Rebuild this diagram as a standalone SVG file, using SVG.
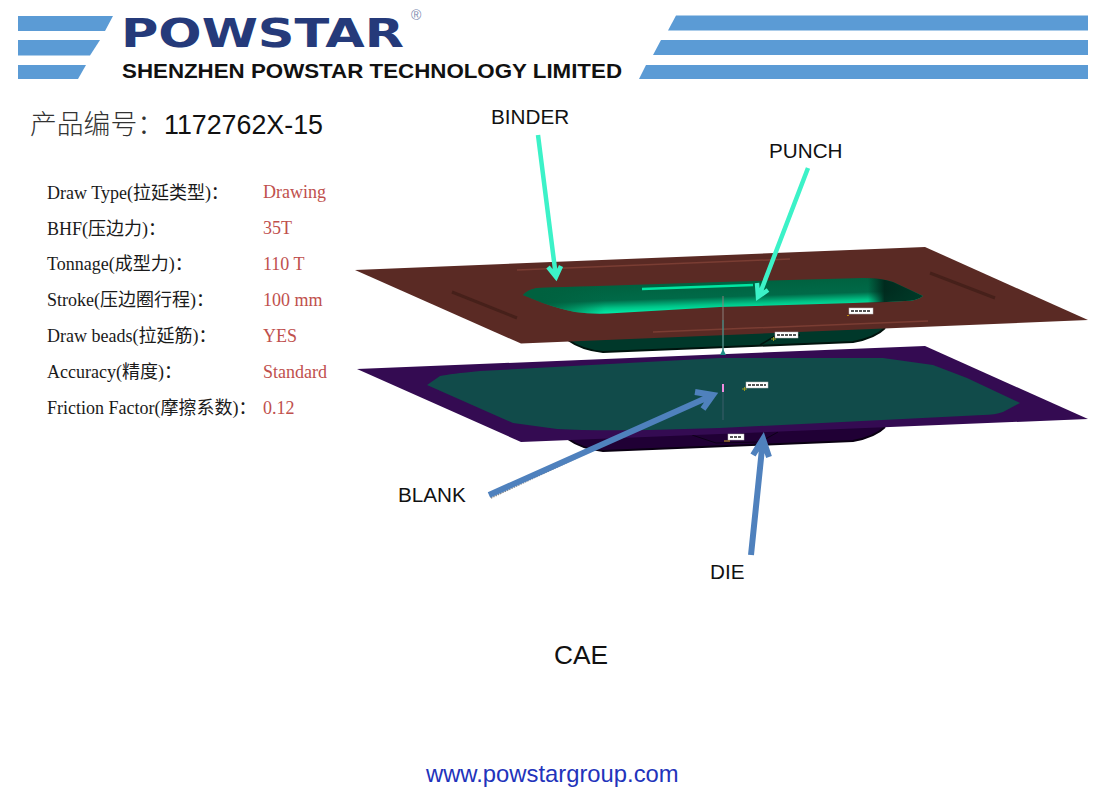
<svg xmlns="http://www.w3.org/2000/svg" width="1118" height="801" viewBox="0 0 1118 801">
<style>
.stripe{fill:#5b9bd5}
.sans{font-family:"Liberation Sans","Noto Sans CJK SC",sans-serif;fill:#111}
.lab{font-size:20.700px}
.k{font-family:"Liberation Serif","Noto Sans CJK SC",serif;font-size:18px;fill:#1a1a1a}
.v{font-family:"Liberation Serif","Noto Sans CJK SC",serif;font-size:18px;fill:#c0504d}
.tag{fill:#fff;stroke:#bbb;stroke-width:.5}
.tagt{stroke:#555;stroke-width:2;stroke-dasharray:3 1}
.cy{fill:none;stroke:#3cf2c8;stroke-width:4.500;stroke-linejoin:miter}
.bl{fill:none;stroke:#4f81bd;stroke-width:6}
.sh{fill:none;stroke:#8a8a8a;stroke-width:1.400;stroke-dasharray:1.500 1}
</style>
<defs>
<linearGradient id="cav" gradientUnits="userSpaceOnUse" x1="700" y1="281" x2="701" y2="311">
<stop offset="0" stop-color="#00613f"/><stop offset=".55" stop-color="#006a48"/><stop offset=".8" stop-color="#00c286"/><stop offset=".95" stop-color="#00e6a2"/>
</linearGradient>
<linearGradient id="endR" gradientUnits="userSpaceOnUse" x1="868" y1="0" x2="923" y2="0">
<stop offset="0" stop-color="#00281c" stop-opacity="0"/><stop offset=".3" stop-color="#00281c" stop-opacity=".95"/><stop offset="1" stop-color="#003a28"/>
</linearGradient>
<linearGradient id="endL" gradientUnits="userSpaceOnUse" x1="540" y1="0" x2="605" y2="0">
<stop offset="0" stop-color="#00613f"/><stop offset="1" stop-color="#00613f" stop-opacity="0"/>
</linearGradient>
</defs>

<g id="logo">
<polygon class="stripe" points="18,16 113,16 105,31 18,31"/>
<polygon class="stripe" points="18,40 100,40 90,55.500 18,55.500"/>
<polygon class="stripe" points="18,65 86,65 78,79 18,79"/>
<text x="121" y="47" font-family="DejaVu Sans,sans-serif" font-weight="bold" font-size="39.500" fill="#253a7a" textLength="283" lengthAdjust="spacingAndGlyphs">POWSTAR</text>
<text x="411" y="20" font-family="Liberation Sans,sans-serif" font-size="14" fill="#7f8cb0">®</text>
<text x="122" y="78" class="sans" font-weight="bold" font-size="20.500" textLength="500" lengthAdjust="spacingAndGlyphs">SHENZHEN POWSTAR TECHNOLOGY LIMITED</text>
<polygon class="stripe" points="676,15.500 1088,15.500 1088,30.500 668,30.500"/>
<polygon class="stripe" points="661,40 1088,40 1088,55 653,55"/>
<polygon class="stripe" points="646,65 1088,65 1088,79 639,79"/>
</g>

<g id="title">
<text x="30" y="134" class="sans" font-size="26.800"><tspan fill="#333" font-weight="300">产品编号：</tspan><tspan x="164">1172762X-15</tspan></text>
</g>

<g id="params">
<text class="k" x="47" y="198.500">Draw Type(拉延类型)：</text><text class="v" x="263" y="198">Drawing</text>
<text class="k" x="47" y="234.500">BHF(压边力)：</text><text class="v" x="263" y="234">35T</text>
<text class="k" x="47" y="270">Tonnage(成型力)：</text><text class="v" x="263" y="270">110 T</text>
<text class="k" x="47" y="306">Stroke(压边圈行程)：</text><text class="v" x="263" y="306">100 mm</text>
<text class="k" x="47" y="342">Draw beads(拉延筋)：</text><text class="v" x="263" y="342">YES</text>
<text class="k" x="47" y="378">Accuracy(精度)：</text><text class="v" x="263" y="378">Standard</text>
<text class="k" x="47" y="414">Friction Factor(摩擦系数)：</text><text class="v" x="263" y="414">0.12</text>
</g>

<g id="punch-body">
<path d="M568,340 Q582,350 603,352 L853,342 Q875,338 885,328 L885,320 L568,330 Z" fill="#00382a"/>
<path d="M568,340 Q582,350 603,352 L853,342 Q875,338 885,328" fill="none" stroke="#00130d" stroke-width="2"/>
<path d="M760,345 L775,336 L800,335" fill="none" stroke="#00140e" stroke-width="1.500"/>
</g>
<g id="binder">
<polygon points="355,270 925,247 1088,320 521,343.500" fill="#5a2a24"/>
<path d="M517,270 L790,259 M653,332 L928,321" stroke="#7a3d33" stroke-width="1.500" fill="none"/>
<path d="M452,292 L517,318 M930,273 L995,298" stroke="#46201a" stroke-width="3" fill="none"/>
<path id="cavity" d="M523,295 Q527,290 537,288 L720,282 L863,278 Q880,278 893,282 L923,296 Q917,301 905,301 L853,303 L720,307 L617,313 Q595,315 575,312 Q560,309 543,303 Z" fill="url(#cav)"/>
<path d="M523,295 Q527,290 537,288 L620,285 L620,313 Q595,315 575,312 Q560,309 543,303 Z" fill="url(#endL)"/>
<path d="M868,278 Q880,278 893,282 L923,296 Q917,301 905,301 L868,303 Z" fill="url(#endR)"/>
<path d="M642,289 L753,285" stroke="#00e6a2" stroke-width="2.500" fill="none"/>
<rect class="tag" x="849" y="308" width="24" height="6"/><path class="tagt" d="M851,311 H871"/>
<path d="M848,315 V316" stroke="#b8860b" stroke-width="2"/>
<rect class="tag" x="775" y="332" width="23" height="6"/><path class="tagt" d="M777,335 H796"/>
<path d="M771,339 H776 M773.500,337 V341" stroke="#9a9a20" stroke-width="1"/>
</g>

<g id="die-body">
<path d="M568,439 Q582,449 603,451 L853,441 Q875,437 885,427 L885,419 L568,429 Z" fill="#200035"/>
<path d="M568,439 Q582,449 603,451 L853,441 Q875,437 885,427" fill="none" stroke="#0a0012" stroke-width="2"/>
<path d="M692,435 L716,443 L760,442 L778,432" fill="none" stroke="#0d0018" stroke-width="1"/>
</g>
<g id="blank">
<polygon points="357,369 925,346 1088,419 521,442" fill="#340b52"/>
<path d="M427,385 L440,376 Q450,374 480,371 L720,358 L883,358 L933,365 L967,378 L1020,403 L1003,412 Q995,415 983,415 L720,428 L650,430 Q590,431 557,429 L513,423 Z" fill="#114b4a"/>
<rect class="tag" x="746" y="382" width="22" height="6"/><path class="tagt" d="M748,385 H766"/>
<path d="M742,389 H747 M744.500,387 V391" stroke="#9a9a20" stroke-width="1"/>
<rect class="tag" x="728" y="434" width="16" height="6"/><path class="tagt" d="M730,437 H742"/>
<path d="M724,441 H730" stroke="#c9a227" stroke-width="1"/>
</g>

<g id="markers">
<path d="M723,296 V352" stroke="#8a7f7a" stroke-width="1" fill="none"/>
<path d="M723,320 V352" stroke="#2e8b84" stroke-width="1" fill="none"/>
<polygon points="723,349 726,355 720,355" fill="#1f8f88"/>
<path d="M723,390 V420" stroke="#3c5f6a" stroke-width="1" fill="none"/>
<path d="M723,384 V392" stroke="#f08ce0" stroke-width="2" fill="none"/>
</g>

<g id="connectors">
<path class="cy" d="M538,135 L556,277 M548,267 L556,277 L561,266"/>
<path class="cy" d="M808,168 L759,296 M757,283 L758,297 L768,290"/>
<path class="sh" d="M491,498 L600,447"/>
<path class="bl" d="M489,495 L713,395 M695,392 L713,395 L703,409"/>
<path class="bl" stroke-width="5" d="M751,555 L763,439 M753,455 L763,439 L769,457"/>
</g>

<g id="labels">
<text class="sans lab" x="491" y="124">BINDER</text>
<text class="sans lab" x="769" y="158">PUNCH</text>
<text class="sans lab" x="398" y="502">BLANK</text>
<text class="sans lab" x="710" y="579">DIE</text>
<text class="sans" x="554" y="664" font-size="26.300">CAE</text>
<text x="426" y="782" font-family="Liberation Sans,sans-serif" font-size="23.800" fill="#2233bb">www.powstargroup.com</text>
</g>
</svg>
